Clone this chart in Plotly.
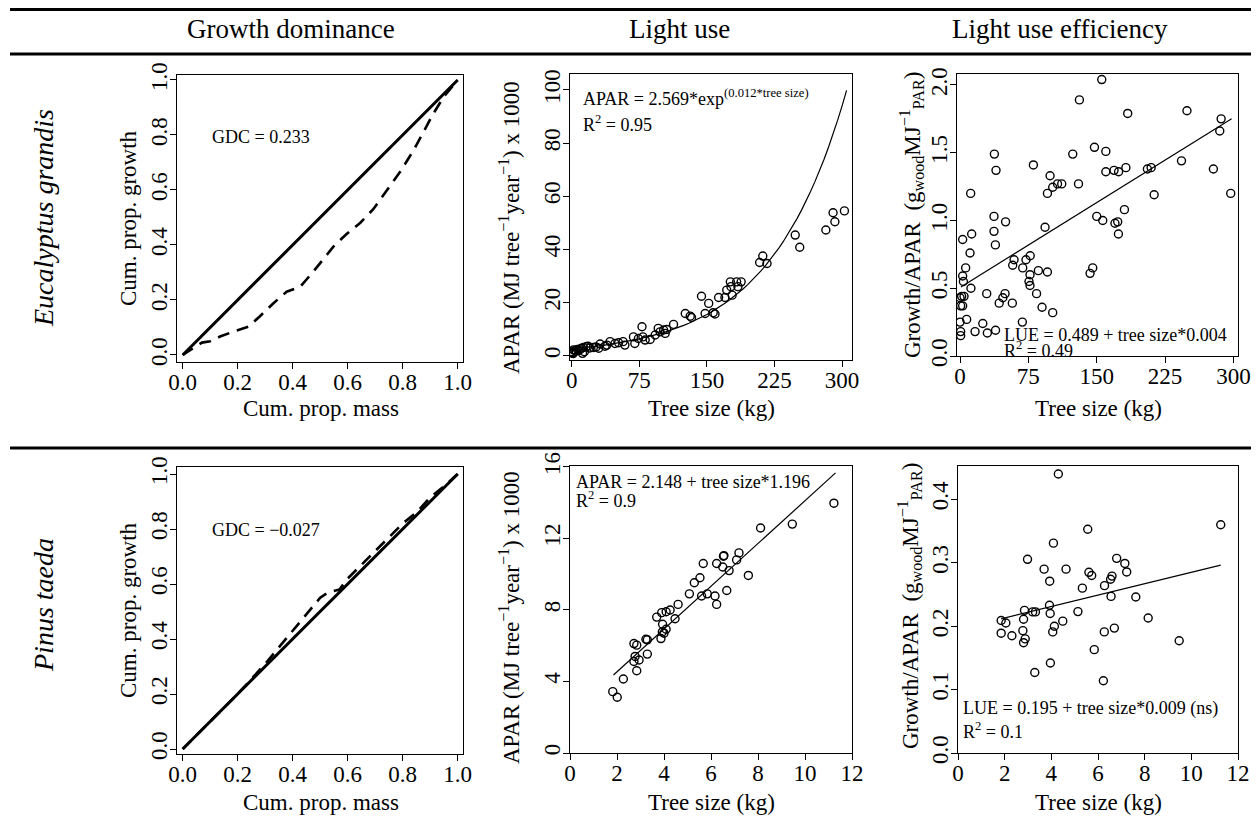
import plotly.graph_objects as go

W, H = 1259, 839          # browser viewport
OFF = 8                   # default page body margin
FW, FH = W - OFF, H - 2 * OFF
FONT = "Liberation Serif"

# ---------------- data ----------------
# Growth dominance curves (cumulative proportion of mass vs growth)
eg_gdc_mass = [0.0, 0.07, 0.10, 0.136, 0.184, 0.239, 0.28, 0.33, 0.378, 0.427, 0.475, 0.51, 0.548,
               0.596, 0.645, 0.693, 0.742, 0.79, 0.84, 0.87, 0.91, 0.95, 1.0]
eg_gdc_growth = [0.0, 0.045, 0.05, 0.067, 0.085, 0.103, 0.14, 0.188, 0.23, 0.248, 0.303, 0.345, 0.394,
                 0.44, 0.48, 0.53, 0.60, 0.665, 0.745, 0.80, 0.875, 0.94, 1.0]
pt_gdc_mass = [0.0, 0.1, 0.2, 0.3, 0.35, 0.4, 0.45, 0.5, 0.53, 0.57, 0.6, 0.65, 0.7, 0.75, 0.8,
               0.85, 0.9, 0.95, 1.0]
pt_gdc_growth = [0.0, 0.1, 0.2, 0.31, 0.37, 0.43, 0.49, 0.55, 0.57, 0.58, 0.62, 0.67, 0.72, 0.77,
                 0.82, 0.86, 0.915, 0.955, 1.0]
diag = [0.0, 1.0]

# Eucalyptus grandis: APAR vs tree size
eg_apar_size = [0.5, 1, 1.5, 2, 3.7, 5, 6.3, 8, 9.3, 11, 12, 13, 14, 16, 18, 20, 24, 27, 30, 31.5,
                37, 39, 42.6, 48, 52, 57, 59, 68.5, 70, 74, 78, 79, 81.5, 87, 92.6, 96, 98, 102,
                103.7, 105.5, 113, 126, 131.5, 133, 144, 148, 152, 157, 159, 163, 170, 172, 176,
                176.7, 178, 183, 184.4, 188, 208.5, 212, 216.7, 248, 253, 282, 290, 292, 302.6]
eg_apar = [1.5, 1.1, 0.8, 2.2, 1.9, 1.8, 2.4, 2.0, 2.6, 2.8, 0.9, 3.1, 1.5, 3.4, 3.6, 2.9, 3.1, 3.3,
           2.8, 4.4, 3.6, 4.0, 5.3, 4.6, 4.9, 5.3, 4.0, 7.1, 4.6, 6.5, 10.9, 7.1, 5.9, 6.1, 7.8,
           10.3, 9.0, 9.7, 8.4, 9.9, 11.8, 15.9, 14.9, 14.4, 22.4, 15.9, 19.7, 16.2, 15.7, 21.9,
           21.9, 24.7, 27.8, 26.0, 22.8, 27.8, 26.0, 27.8, 35.1, 37.5, 34.7, 45.4, 40.8, 47.3,
           53.8, 50.4, 54.5]
eg_apar_coef_a = 2.569
eg_apar_coef_b = 0.012
eg_apar_fit_size = [float(v) for v in range(0, 306, 5)]

# Eucalyptus grandis: LUE vs tree size
eg_lue_size = [155.5, 131, 184, 249, 286.5, 285, 37.7, 123.7, 147.5, 160, 243, 80.5, 39.5, 98.8, 160,
               169, 174, 182, 205.6, 209.7, 278, 130, 101.7, 107, 111.6, 95.9, 11.7, 213, 297,
               37.3, 50, 150, 156.6, 180.4, 170, 173, 173.8, 93.3, 37.3, 12.8, 2.9, 38.8, 11, 77,
               72.4, 59.3, 57.8, 68.8, 86, 95.9, 6.2, 2.9, 76.8, 75.7, 76.8, 142.7, 145.6, 3.7, 12,
               1.8, 4.4, 0, 0.7, 2.9, 29.3, 49.4, 47, 43, 57.4, 84, 90, 101.7, 68.4, 0, 7.3, 25,
               16.5, 30, 39, 0.7, 0.7]
eg_lue = [2.04, 1.89, 1.79, 1.81, 1.75, 1.66, 1.49, 1.49, 1.54, 1.51, 1.44, 1.41, 1.37, 1.33, 1.36,
          1.37, 1.36, 1.39, 1.38, 1.39, 1.38, 1.27, 1.245, 1.27, 1.27, 1.2, 1.2, 1.19, 1.2, 1.03,
          0.99, 1.03, 1.0, 1.08, 0.98, 0.99, 0.9, 0.95, 0.92, 0.9, 0.86, 0.82, 0.76, 0.74, 0.71,
          0.71, 0.67, 0.65, 0.63, 0.62, 0.65, 0.59, 0.6, 0.55, 0.52, 0.61, 0.65, 0.55, 0.5, 0.44,
          0.44, 0.43, 0.37, 0.37, 0.46, 0.46, 0.43, 0.39, 0.39, 0.46, 0.36, 0.32, 0.25, 0.25, 0.27,
          0.24, 0.18, 0.17, 0.19, 0.18, 0.15]
eg_lue_fit_size = [1.0, 298.0]
eg_lue_fit = [0.51, 1.75]

# Pinus taeda: APAR vs tree size
pt_apar_size = [1.82, 2.01, 2.27, 2.84, 2.72, 2.94, 2.77, 2.72, 2.84, 3.29, 3.23, 3.29, 3.87, 3.93,
                4.09, 4.0, 3.94, 3.69, 3.9, 4.09, 4.26, 4.47, 4.6, 5.08, 5.29, 5.53, 5.67, 5.6, 5.84,
                6.17, 6.24, 6.24, 6.5, 6.53, 6.55, 6.77, 6.67, 7.09, 7.19, 7.59, 8.11, 9.46, 11.23]
pt_apar = [3.43, 3.12, 4.14, 4.6, 5.12, 5.2, 5.4, 6.12, 6.03, 5.53, 6.36, 6.33, 6.4, 6.77, 6.92, 6.7,
           7.2, 7.6, 7.85, 7.9, 8.0, 7.51, 8.31, 8.9, 9.52, 9.8, 10.6, 8.78, 8.9, 8.78, 8.31, 10.6,
           10.4, 11.0, 11.04, 10.2, 9.09, 10.8, 11.19, 9.93, 12.58, 12.8, 13.97]
pt_apar_coef_a = 2.148
pt_apar_coef_b = 1.196
pt_apar_fit_size = [1.85, 11.3]

# Pinus taeda: LUE vs tree size
pt_lue_size = [4.3, 11.26, 5.56, 4.09, 2.98, 6.8, 7.15, 7.23, 3.69, 4.63, 5.61, 5.73, 6.6, 6.54, 3.93,
               5.33, 6.28, 6.56, 7.62, 3.92, 2.85, 3.2, 3.32, 3.95, 5.14, 1.85, 2.81, 4.49, 2.05,
               8.15, 4.13, 4.06, 6.27, 6.7, 1.85, 2.31, 2.78, 2.88, 2.81, 9.48, 5.84, 3.96, 3.29,
               6.23]
pt_lue = [0.44, 0.36, 0.353, 0.331, 0.3055, 0.307, 0.299, 0.2856, 0.29, 0.29, 0.285, 0.28, 0.279,
          0.274, 0.271, 0.26, 0.264, 0.247, 0.246, 0.233, 0.225, 0.2226, 0.2226, 0.22, 0.223, 0.209,
          0.211, 0.208, 0.205, 0.213, 0.2, 0.191, 0.191, 0.197, 0.189, 0.185, 0.193, 0.18, 0.174,
          0.177, 0.163, 0.142, 0.127, 0.114]
pt_lue_coef_a = 0.195
pt_lue_coef_b = 0.009
pt_lue_fit_size = [1.85, 11.26]

col_titles = ["Growth dominance", "Light use", "Light use efficiency"]
row_titles = ["Eucalyptus grandis", "Pinus taeda"]

# ---------------- helpers (page pixels -> paper fractions) ----------------
def fx(x):
    return (x - OFF) / FW


def fy(y):
    return 1 - (y - OFF) / FH


fig = go.Figure()

marker = dict(symbol="circle-open", size=8, color="black", line=dict(width=1.4, color="black"))

# panel 1
fig.add_trace(go.Scatter(x=diag, y=diag, mode="lines", line=dict(color="black", width=3),
                         xaxis="x", yaxis="y", showlegend=False))
fig.add_trace(go.Scatter(x=eg_gdc_mass, y=eg_gdc_growth, mode="lines",
                         line=dict(color="black", width=2.6, dash="12px,8px"),
                         xaxis="x", yaxis="y", showlegend=False))
# panel 2
fig.add_trace(go.Scatter(x=eg_apar_size, y=eg_apar, mode="markers", marker=marker,
                         xaxis="x2", yaxis="y2", showlegend=False))
eg_fit_y = [eg_apar_coef_a * (2.718281828459045 ** (eg_apar_coef_b * s)) for s in eg_apar_fit_size]
fig.add_trace(go.Scatter(x=eg_apar_fit_size, y=eg_fit_y, mode="lines",
                         line=dict(color="black", width=1.2),
                         xaxis="x2", yaxis="y2", showlegend=False))
# panel 3
fig.add_trace(go.Scatter(x=eg_lue_size, y=eg_lue, mode="markers", marker=marker,
                         xaxis="x3", yaxis="y3", showlegend=False))
fig.add_trace(go.Scatter(x=eg_lue_fit_size, y=eg_lue_fit, mode="lines",
                         line=dict(color="black", width=1.2),
                         xaxis="x3", yaxis="y3", showlegend=False))
# panel 4
fig.add_trace(go.Scatter(x=diag, y=diag, mode="lines", line=dict(color="black", width=3),
                         xaxis="x4", yaxis="y4", showlegend=False))
fig.add_trace(go.Scatter(x=pt_gdc_mass, y=pt_gdc_growth, mode="lines",
                         line=dict(color="black", width=2.6, dash="12px,8px"),
                         xaxis="x4", yaxis="y4", showlegend=False))
# panel 5
fig.add_trace(go.Scatter(x=pt_apar_size, y=pt_apar, mode="markers", marker=marker,
                         xaxis="x5", yaxis="y5", showlegend=False))
fig.add_trace(go.Scatter(x=pt_apar_fit_size,
                         y=[pt_apar_coef_a + pt_apar_coef_b * s for s in pt_apar_fit_size],
                         mode="lines", line=dict(color="black", width=1.2),
                         xaxis="x5", yaxis="y5", showlegend=False))
# panel 6
fig.add_trace(go.Scatter(x=pt_lue_size, y=pt_lue, mode="markers", marker=marker,
                         xaxis="x6", yaxis="y6", showlegend=False))
fig.add_trace(go.Scatter(x=pt_lue_fit_size,
                         y=[pt_lue_coef_a + pt_lue_coef_b * s for s in pt_lue_fit_size],
                         mode="lines", line=dict(color="black", width=1.2),
                         xaxis="x6", yaxis="y6", showlegend=False))

# ---------------- axes ----------------
props = [0, 0.2, 0.4, 0.6, 0.8, 1.0]
panels = [
    dict(box=(177, 463, 75, 362), xr=[-0.0207, 1.0193], yr=[-0.0255, 1.018],
         xt=props, yt=props, xf=".1f", yf=".1f"),
    dict(box=(570, 852, 74, 360), xr=[-1.9, 311], yr=[-1.6, 106],
         xt=[0, 75, 150, 225, 300], yt=[0, 20, 40, 60, 80, 100], xf="", yf=""),
    dict(box=(957, 1238, 74, 356), xr=[-3.3, 305], yr=[0, 2.081],
         xt=[0, 75, 150, 225, 300], yt=[0, 0.5, 1.0, 1.5, 2.0], xf="", yf=".1f"),
    dict(box=(177, 463, 467, 754), xr=[-0.0207, 1.0193], yr=[-0.018, 1.0255],
         xt=props, yt=props, xf=".1f", yf=".1f"),
    dict(box=(570, 852, 466, 753), xr=[0, 12], yr=[0, 16.05],
         xt=[0, 2, 4, 6, 8, 10, 12], yt=[0, 4, 8, 12, 16], xf="", yf=""),
    dict(box=(958, 1238, 466, 753), xr=[0, 12], yr=[0, 0.4527],
         xt=[0, 2, 4, 6, 8, 10, 12], yt=[0, 0.1, 0.2, 0.3, 0.4], xf="", yf=".1f"),
]

layout_axes = {}
for i, p in enumerate(panels, start=1):
    x0, x1, y0, y1 = p["box"]
    sx = "" if i == 1 else str(i)
    common = dict(showline=True, mirror=True, linecolor="black", linewidth=1,
                  ticks="outside", ticklen=6, tickwidth=1, tickcolor="black",
                  showgrid=False, zeroline=False, automargin=False,
                  tickfont=dict(family=FONT, size=23, color="black"))
    layout_axes["xaxis" + sx] = dict(domain=[fx(x0), fx(x1)], range=p["xr"], tickvals=p["xt"],
                                     tickformat=p["xf"], anchor="y" + sx,
                                     ticklabelstandoff=-7, **common)
    layout_axes["yaxis" + sx] = dict(domain=[fy(y1), fy(y0)], range=p["yr"], tickvals=p["yt"],
                                     tickformat=p["yf"], anchor="x" + sx, tickangle=-90,
                                     ticklabelstandoff=-6, **common)

fig.update_layout(**layout_axes)

# ---------------- text ----------------
ann = []


def text(s, x, y, size, angle=0, xanchor="center", italic=False):
    ann.append(dict(text=s, x=fx(x), y=fy(y), xref="paper", yref="paper", showarrow=False,
                    textangle=angle, xanchor=xanchor, yanchor="middle",
                    font=dict(family=FONT, size=size, color="black",
                              style="italic" if italic else "normal")))


# column headers
text(col_titles[0], 291, 29, 27)
text(col_titles[1], 679, 29, 27)
text(col_titles[2], 1060, 29, 27)
# row labels
text(row_titles[0], 43, 218, 28, angle=-90, italic=True)
text(row_titles[1], 43, 605, 28, angle=-90, italic=True)

# axis titles
text("Cum. prop. mass", 321, 408, 23)
text("Tree size (kg)", 711, 408, 23)
text("Tree size (kg)", 1098, 408, 23)
text("Cum. prop. mass", 321, 802, 23)
text("Tree size (kg)", 711, 802, 23)
text("Tree size (kg)", 1098, 802, 23)

text("Cum. prop. growth", 128, 218, 23, angle=-90)
text("Cum. prop. growth", 128, 610, 23, angle=-90)
text("APAR (MJ tree<sup>\u22121</sup>year<sup>\u22121</sup>) x 1000", 509, 228, 23, angle=-90)
text("APAR (MJ tree<sup>\u22121</sup>year<sup>\u22121</sup>) x 1000", 509, 618, 23, angle=-90)
text("Growth/APAR  (g<sub>wood</sub>MJ<sup>\u22121</sup><sub>PAR</sub>)", 911, 215, 23, angle=-90)
text("Growth/APAR  (g<sub>wood</sub>MJ<sup>\u22121</sup><sub>PAR</sub>)", 909, 606, 23, angle=-90)

# in-panel statistics
text("GDC = 0.233", 210, 137, 18, xanchor="left")
text("GDC = \u22120.027", 210, 530, 18, xanchor="left")
text("APAR = 2.569*exp<sup>(0.012*tree size)</sup>", 581, 98, 18, xanchor="left")
text("R<sup>2</sup> = 0.95", 581, 124, 18, xanchor="left")
text("LUE = 0.489 + tree size*0.004", 1002, 335, 18, xanchor="left")
text("R<sup>2</sup> = 0.49", 1002, 350, 18, xanchor="left")
text("APAR = 2.148 + tree size*1.196", 574, 482, 18, xanchor="left")
text("R<sup>2</sup> = 0.9", 574, 500, 18, xanchor="left")
text("LUE = 0.195 + tree size*0.009 (ns)", 961, 708, 18, xanchor="left")
text("R<sup>2</sup> = 0.1", 961, 730, 18, xanchor="left")

shapes = []
for yline in (9.5, 54, 448):
    shapes.append(dict(type="line", xref="paper", yref="paper", x0=fx(10), x1=1.0,
                       y0=fy(yline), y1=fy(yline), line=dict(color="black", width=3)))

fig.update_layout(width=FW, height=FH, autosize=False,
                  margin=dict(l=0, r=0, t=0, b=0, pad=0, autoexpand=False),
                  paper_bgcolor="white", plot_bgcolor="white",
                  annotations=ann, shapes=shapes,
                  font=dict(family=FONT, color="black"))

fig.write_html("out.html")
